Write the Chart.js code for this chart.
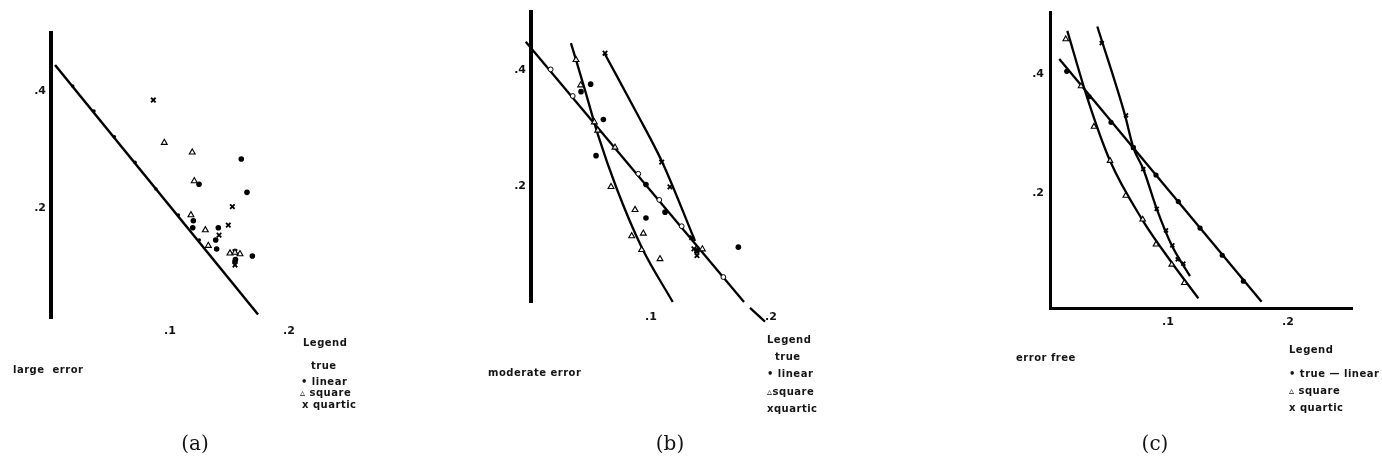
<!DOCTYPE html>
<html><head><meta charset="utf-8">
<script src="https://cdn.jsdelivr.net/npm/chart.js@4.4.0/dist/chart.umd.min.js"></script>
<style>
html,body{margin:0;padding:0;background:#fff;}
#wrap{position:relative;width:1382px;height:462px;overflow:hidden;background:#fff;}
canvas{position:absolute;top:0;}
.t{position:absolute;font-family:"DejaVu Sans",sans-serif;font-size:10px;font-weight:bold;letter-spacing:0.5px;color:#151515;white-space:nowrap;line-height:12px;}
.cap{position:absolute;font-family:"DejaVu Serif",serif;font-size:20px;color:#111;transform:translateX(-50%);line-height:22px;white-space:nowrap;}
</style></head><body>
<div id="wrap">
<canvas id="ca" width="460" height="462" style="left:0px"></canvas>
<canvas id="cb" width="460" height="462" style="left:460px"></canvas>
<canvas id="cc" width="462" height="462" style="left:920px"></canvas>

<div class="t" style="left:303px;top:337px">Legend</div>
<div class="t" style="left:311px;top:360px">true</div>
<div class="t" style="left:301px;top:376px">• linear</div>
<div class="t" style="left:300px;top:387px">▵ square</div>
<div class="t" style="left:302px;top:399px">x quartic</div>
<div class="t" style="left:13px;top:364px">large&nbsp; error</div>
<div class="cap" style="left:195px;top:432px">(a)</div>

<div class="t" style="left:767px;top:334px">Legend</div>
<div class="t" style="left:775px;top:351px">true</div>
<div class="t" style="left:767px;top:368px">• linear</div>
<div class="t" style="left:767px;top:386px">▵square</div>
<div class="t" style="left:767px;top:403px">xquartic</div>
<div class="t" style="left:488px;top:367px">moderate error</div>
<div class="cap" style="left:670px;top:432px">(b)</div>

<div class="t" style="left:1289px;top:344px">Legend</div>
<div class="t" style="left:1289px;top:368px">• true — linear</div>
<div class="t" style="left:1289px;top:385px">▵ square</div>
<div class="t" style="left:1289px;top:402px">x quartic</div>
<div class="t" style="left:1016px;top:352px">error free</div>
<div class="cap" style="left:1155px;top:432px">(c)</div>
</div>
<script>
// ---- tick labels ----
const xTickValues = [0.1, 0.2];
const xTickLabels = ['.1', '.2'];
const yTickValues = [0.2, 0.4];
const yTickLabels = ['.2', '.4'];

// ---- panel (a): large error ----
const aTrueLineX = [0.0034, 0.1740];
const aTrueLineY = [0.4444, 0.0180];
const aTrueX = [0.0182, 0.0361, 0.0532, 0.0706, 0.0882, 0.1070, 0.1246];
const aTrueY = [0.4085, 0.3658, 0.3219, 0.2781, 0.2325, 0.1880, 0.1453];
const aLinearX = [0.1599, 0.1647, 0.1244, 0.1196, 0.1191, 0.1406, 0.1384, 0.1392, 0.1692, 0.1546, 0.1550];
const aLinearY = [0.2838, 0.2268, 0.2405, 0.1783, 0.1663, 0.1663, 0.1453, 0.1299, 0.1179, 0.1082, 0.1120];
const aSquareX = [0.0952, 0.1187, 0.1204, 0.1176, 0.1297, 0.1322, 0.1504, 0.1588, 0.1546];
const aSquareY = [0.3116, 0.2952, 0.2462, 0.1880, 0.1624, 0.1356, 0.1226, 0.1214, 0.1240];
const aQuarticX = [0.0860, 0.1524, 0.1490, 0.1412, 0.1546, 0.1546];
const aQuarticY = [0.3846, 0.2022, 0.1709, 0.1538, 0.1253, 0.1026];

// ---- panel (b): moderate error ----
const bTrueLineX = [-0.0044, 0.1775];
const bTrueLineY = [0.4480, 0.0000];
const bTailX = [0.1825, 0.1950];
const bTailY = [-0.0102, -0.0339];
const bTrueX = [0.0164, 0.0348, 0.0894, 0.1069, 0.1256, 0.1603];
const bTrueY = [0.4005, 0.3547, 0.2208, 0.1758, 0.1305, 0.0429];
const bSquareLineX = [0.0333, 0.0450, 0.0561, 0.0714, 0.0923, 0.1181];
const bSquareLineY = [0.4458, 0.3649, 0.2859, 0.1954, 0.0938, 0.0000];
const bQuarticLineX = [0.0611, 0.0881, 0.1094, 0.1367];
const bQuarticLineY = [0.4288, 0.3254, 0.2407, 0.1051];
const bLinearX = [0.0417, 0.0497, 0.0603, 0.0542, 0.0958, 0.1117, 0.0958, 0.1728, 0.1383];
const bLinearY = [0.3622, 0.3751, 0.3141, 0.2520, 0.2022, 0.1547, 0.1446, 0.0944, 0.0881];
const bSquareX = [0.0375, 0.0414, 0.0528, 0.0556, 0.0700, 0.0667, 0.0867, 0.0839, 0.0936, 0.0922, 0.1075, 0.1428];
const bSquareY = [0.4170, 0.3734, 0.3097, 0.2954, 0.2661, 0.1983, 0.1588, 0.1136, 0.1181, 0.0898, 0.0741, 0.0910];
const bQuarticX = [0.0617, 0.1089, 0.1158, 0.1339, 0.1381, 0.1383, 0.1358];
const bQuarticY = [0.4283, 0.2407, 0.1983, 0.1107, 0.0881, 0.0797, 0.0915];

// ---- panel (c): error free ----
const cLinearLineX = [0.0094, 0.1780];
const cLinearLineY = [0.4255, 0.0188];
const cLinearX = [0.0156, 0.0342, 0.0525, 0.0711, 0.0900, 0.1086, 0.1267, 0.1452, 0.1628];
const cLinearY = [0.4050, 0.3622, 0.3195, 0.2772, 0.2312, 0.1867, 0.1422, 0.0967, 0.0533];
const cSquareLineX = [0.0161, 0.0336, 0.0517, 0.0781, 0.1017, 0.1253];
const cSquareLineY = [0.4728, 0.3550, 0.2550, 0.1578, 0.0883, 0.0245];
const cSquareX = [0.0148, 0.0275, 0.0383, 0.0517, 0.0648, 0.0789, 0.0900, 0.1031, 0.1136];
const cSquareY = [0.4588, 0.3800, 0.3122, 0.2550, 0.1967, 0.1567, 0.1150, 0.0812, 0.0505];
const cQuarticLineX = [0.0411, 0.0642, 0.0711, 0.0794, 0.0906, 0.1031, 0.1183];
const cQuarticLineY = [0.4800, 0.3312, 0.2772, 0.2412, 0.1745, 0.1133, 0.0617];
const cQuarticX = [0.0448, 0.0650, 0.0711, 0.0794, 0.0906, 0.0983, 0.1036, 0.1081, 0.1128];
const cQuarticY = [0.4522, 0.3312, 0.2772, 0.2412, 0.1745, 0.1383, 0.1133, 0.0900, 0.0828];

function zip(xs, ys) { return xs.map((x, i) => ({ x: x, y: ys[i] })); }

function lineDs(xs, ys, w, curved) {
  return { data: zip(xs, ys), showLine: true, borderColor: '#000', borderWidth: w,
    pointRadius: 0, clip: false, tension: 0,
    cubicInterpolationMode: curved ? 'monotone' : 'default', order: 2 };
}
function dots(xs, ys, r) {
  return { data: zip(xs, ys), showLine: false, pointStyle: 'circle', pointRadius: r,
    backgroundColor: '#000', borderColor: '#000', borderWidth: 0, clip: false, order: 1 };
}
function openDots(xs, ys, r) {
  return { data: zip(xs, ys), showLine: false, pointStyle: 'circle', pointRadius: r,
    backgroundColor: '#fff', borderColor: '#000', borderWidth: 1, clip: false, order: 1 };
}
function tris(xs, ys, r) {
  return { data: zip(xs, ys), showLine: false, pointStyle: 'triangle', pointRadius: r,
    backgroundColor: 'rgba(255,255,255,0.9)', borderColor: '#000', borderWidth: 1.1, clip: false, order: 1 };
}
function crosses(xs, ys, r) {
  return { data: zip(xs, ys), showLine: false, pointStyle: 'crossRot', pointRadius: r,
    backgroundColor: '#000', borderColor: '#000', borderWidth: 1.8, clip: false, order: 1 };
}

const tickFont = { family: 'DejaVu Sans', size: 11, weight: 'bold' };

function makeChart(id, cfg) {
  return new Chart(document.getElementById(id), {
    type: 'scatter',
    data: { datasets: cfg.datasets },
    options: {
      responsive: false, animation: false, devicePixelRatio: 1,
      layout: { padding: cfg.padding },
      plugins: { legend: { display: false }, tooltip: { enabled: false } },
      scales: {
        x: {
          type: 'linear', min: cfg.xMin, max: cfg.xMax,
          grid: { display: false, drawTicks: false },
          border: { display: cfg.xBorder > 0, width: cfg.xBorder || 1, color: '#000' },
          afterBuildTicks: s => { s.ticks = xTickValues.map(v => ({ value: v })); },
          afterFit: s => { s.height = 20; },
          ticks: { padding: cfg.xPad, color: '#111', font: tickFont, maxRotation: 0, autoSkip: false,
            callback: (v, i) => xTickLabels[i] }
        },
        y: {
          type: 'linear', min: cfg.yMin, max: cfg.yMax,
          grid: { display: false, drawTicks: false },
          border: { display: true, width: cfg.yBorder, color: '#000' },
          afterBuildTicks: s => { s.ticks = yTickValues.map(v => ({ value: v })); },
          afterFit: s => { s.width = 30; },
          ticks: { padding: cfg.yPad, color: '#111', font: tickFont, autoSkip: false,
            callback: (v, i) => yTickLabels[i] }
        }
      }
    }
  });
}

// panel (a)
makeChart('ca', {
  padding: { left: 21, top: 32.5, right: 111.5, bottom: 124 },
  xMin: 0, xMax: 0.25, yMin: 0.012, yMax: 0.5,
  xBorder: 0, yBorder: 4, xPad: 7, yPad: 5,
  datasets: [
    lineDs(aTrueLineX, aTrueLineY, 2.5, false),
    dots(aTrueX, aTrueY, 1.8),
    dots(aLinearX, aLinearY, 2.8),
    tris(aSquareX, aSquareY, 3.4),
    crosses(aQuarticX, aQuarticY, 3.2)
  ]
});

// panel (b)
makeChart('cb', {
  padding: { left: 41, top: 7, right: 89, bottom: 140 },
  xMin: 0, xMax: 0.25, yMin: 0, yMax: 0.5,
  xBorder: 0, yBorder: 4, xPad: 9, yPad: 5,
  datasets: [
    lineDs(bTrueLineX, bTrueLineY, 2.3, false),
    lineDs(bTailX, bTailY, 2.3, false),
    lineDs(bSquareLineX, bSquareLineY, 2.3, true),
    lineDs(bQuarticLineX, bQuarticLineY, 2.3, true),
    openDots(bTrueX, bTrueY, 2.4),
    dots(bLinearX, bLinearY, 2.8),
    tris(bSquareX, bSquareY, 3.4),
    crosses(bQuarticX, bQuarticY, 3.2)
  ]
});

// panel (c)
makeChart('cc', {
  padding: { left: 100, top: 11, right: 30, bottom: 134 },
  xMin: 0.00167, xMax: 0.25333, yMin: 0.00833, yMax: 0.50333,
  xBorder: 3, yBorder: 3, xPad: 8, yPad: 6,
  datasets: [
    lineDs(cLinearLineX, cLinearLineY, 2.3, false),
    lineDs(cSquareLineX, cSquareLineY, 2.3, true),
    lineDs(cQuarticLineX, cQuarticLineY, 2.3, true),
    dots(cLinearX, cLinearY, 2.6),
    tris(cSquareX, cSquareY, 3.2),
    crosses(cQuarticX, cQuarticY, 2.8)
  ]
});
</script>
</body></html>
